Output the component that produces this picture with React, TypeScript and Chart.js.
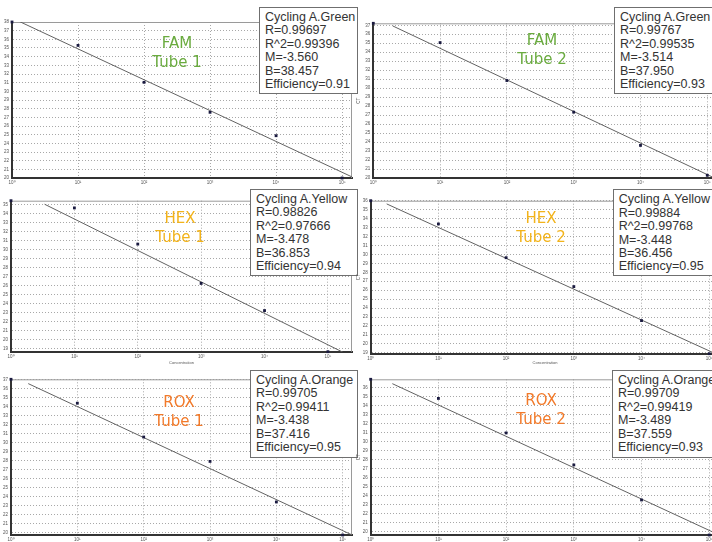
import React, { useEffect, useRef } from "react";
import { Chart, registerables } from "chart.js";

Chart.register(...registerables);

// ---------- data ----------
const logConcentration = [0, 1, 2, 3, 4, 5];
const exponentLabels = ["10\u2070", "10\u00b9", "10\u00b2", "10\u00b3", "10\u2074", "10\u2075"];

const famTube1 = [38.0, 35.3, 31.04, 27.58, 24.88, 20.0];
const famTube2 = [37.22, 35.07, 30.85, 27.33, 23.63, 20.3];
const hexTube1 = [35.4, 34.6, 30.6, 26.25, 23.25, 18.7];
const hexTube2 = [36.0, 33.4, 29.63, 26.4, 22.6, 18.9];
const roxTube1 = [37.0, 34.35, 30.6, 27.9, 23.4, 19.74];
const roxTube2 = [36.93, 34.8, 30.96, 27.4, 23.5, 19.6];

const dyeNames = ["FAM", "FAM", "HEX", "HEX", "ROX", "ROX"];
const tubeNames = ["Tube 1", "Tube 2", "Tube 1", "Tube 2", "Tube 1", "Tube 2"];
const channelNames = [
  "Cycling A.Green",
  "Cycling A.Green",
  "Cycling A.Yellow",
  "Cycling A.Yellow",
  "Cycling A.Orange",
  "Cycling A.Orange",
];
const rValues = ["0.99697", "0.99767", "0.98826", "0.99884", "0.99705", "0.99709"];
const r2Values = ["0.99396", "0.99535", "0.97666", "0.99768", "0.99411", "0.99419"];
const slopes = [-3.56, -3.514, -3.478, -3.448, -3.438, -3.489];
const intercepts = [38.457, 37.95, 36.853, 36.456, 37.416, 37.559];
const efficiencies = [0.91, 0.93, 0.94, 0.95, 0.95, 0.93];

// axis ranges
const yMins = [20.0, 20.0, 18.7, 18.9, 19.74, 19.6];
const yMaxs = [38.0, 37.22, 35.4, 36.0, 37.0, 36.93];
const xMaxs = [5.15, 5.15, 5.38, 5.15, 5.14, 5.15];
const fitStarts = [0, 0.29, 0.53, 0.236, 0.26, 0.32];

const seriesList = [famTube1, famTube2, hexTube1, hexTube2, roxTube1, roxTube2];

// ---------- layout / style ----------
const layouts = [
  { canvas: { l: 0, t: 0, w: 358, h: 190 }, area: { l: 12, t: 22, r: 352, b: 178 }, title: { x: 177, y: 33.5 }, box: { l: 259, t: 7, w: 99, h: 87 }, yTitle: false, xTitle: false },
  { canvas: { l: 356, t: 0, w: 370, h: 190 }, area: { l: 373.3, t: 23.3, r: 717.3, b: 178 }, title: { x: 542, y: 30.5 }, box: { l: 614, t: 7, w: 110, h: 87 }, yTitle: true, xTitle: false },
  { canvas: { l: 0, t: 190, w: 358, h: 175 }, area: { l: 11, t: 200.7, r: 352, b: 351.7 }, title: { x: 180, y: 208.5 }, box: { l: 250, t: 189, w: 108, h: 87 }, yTitle: false, xTitle: true },
  { canvas: { l: 356, t: 190, w: 370, h: 175 }, area: { l: 370.7, t: 200.7, r: 719.4, b: 353.7 }, title: { x: 541, y: 208.5 }, box: { l: 612.7, t: 189.3, w: 110, h: 87 }, yTitle: true, xTitle: true },
  { canvas: { l: 0, t: 365, w: 358, h: 177 }, area: { l: 11, t: 379.3, r: 352, b: 535 }, title: { x: 179, y: 392.5 }, box: { l: 250, t: 370, w: 108, h: 88 }, yTitle: false, xTitle: false },
  { canvas: { l: 356, t: 365, w: 370, h: 177 }, area: { l: 370.7, t: 379.3, r: 719.4, b: 535 }, title: { x: 541, y: 390.5 }, box: { l: 612, t: 370, w: 110, h: 88 }, yTitle: true, xTitle: false },
];
const dyeColors = ["#6aab3f", "#6aab3f", "#f2b31b", "#f2b31b", "#f27a2a", "#f27a2a"];

const framePlugin = {
  id: "frameTopRight",
  beforeDatasetsDraw(chart: any) {
    const { ctx, chartArea } = chart;
    ctx.save();
    ctx.strokeStyle = "#9a9a9a";
    ctx.lineWidth = 1;
    ctx.beginPath();
    ctx.moveTo(chartArea.left, chartArea.top + 0.5);
    ctx.lineTo(chartArea.right, chartArea.top + 0.5);
    ctx.moveTo(chartArea.right - 0.5, chartArea.top);
    ctx.lineTo(chartArea.right - 0.5, chartArea.bottom);
    ctx.stroke();
    ctx.restore();
  },
};

function Panel({ i }: { i: number }) {
  const ref = useRef<HTMLCanvasElement | null>(null);
  const L = layouts[i];
  useEffect(() => {
    const c = L.canvas;
    const a = L.area;
    const yW = a.l - c.l;
    const xH = c.t + c.h - a.b;
    const x0 = fitStarts[i];
    const x1 = xMaxs[i];
    const chart = new Chart(ref.current as HTMLCanvasElement, {
      type: "scatter",
      data: {
        datasets: [
          {
            type: "line",
            data: [
              { x: x0, y: slopes[i] * x0 + intercepts[i] },
              { x: x1, y: slopes[i] * x1 + intercepts[i] },
            ],
            borderColor: "#626262",
            borderWidth: 1,
            pointRadius: 0,
            order: 2,
          } as any,
          {
            data: logConcentration.map((x, k) => ({ x, y: seriesList[i][k] })),
            pointStyle: "rect",
            pointRadius: 2,
            backgroundColor: "#1a1a40",
            borderColor: "#1a1a40",
            borderWidth: 0,
            clip: false,
            order: 1,
          } as any,
        ],
      },
      options: {
        animation: false,
        responsive: false,
        maintainAspectRatio: false,
        events: [],
        layout: { padding: { left: 0, top: a.t - c.t, right: c.l + c.w - a.r, bottom: 0 } },
        plugins: { legend: { display: false }, tooltip: { enabled: false } },
        scales: {
          x: {
            type: "linear",
            min: 0,
            max: x1,
            afterFit: (s: any) => {
              s.height = xH;
            },
            afterBuildTicks: (s: any) => {
              s.ticks = logConcentration.filter((v) => v <= s.max).map((v) => ({ value: v }));
            },
            ticks: {
              callback: (v: any) => exponentLabels[Math.round(Number(v))] ?? "",
              font: { size: 4.5, family: "Liberation Sans, Arial, sans-serif" },
              color: "#555",
              padding: 2,
              maxRotation: 0,
              autoSkip: false,
            },
            grid: { color: "#a8a8a8", lineWidth: 1, drawTicks: false },
            border: { display: true, color: "#333", width: 2, dash: [1, 2] },
            title: {
              display: L.xTitle,
              text: "Concentration",
              font: { size: 4, family: "Liberation Sans, Arial, sans-serif" },
              color: "#555",
              padding: 0,
            },
          },
          y: {
            type: "linear",
            min: yMins[i],
            max: yMaxs[i],
            afterFit: (s: any) => {
              s.width = yW;
            },
            afterBuildTicks: (s: any) => {
              const t: any[] = [];
              for (let v = Math.ceil(s.min - 1e-6); v <= Math.floor(s.max + 1e-6); v++) t.push({ value: v });
              s.ticks = t;
            },
            ticks: {
              callback: (v: any) => String(v),
              font: { size: 4.5, family: "Liberation Sans, Arial, sans-serif" },
              color: "#555",
              padding: 3,
              autoSkip: false,
            },
            grid: { color: "#a8a8a8", lineWidth: 1, drawTicks: false },
            border: { display: true, color: "#333", width: 2, dash: [1, 2] },
            title: {
              display: L.yTitle,
              text: "CT",
              font: { size: 4.5, family: "Liberation Sans, Arial, sans-serif" },
              color: "#555",
              padding: 0,
            },
          },
        },
      },
      plugins: [framePlugin],
    });
    return () => chart.destroy();
  }, [i]);

  const c = L.canvas;
  const b = L.box;
  return (
    <>
      <canvas
        ref={ref}
        width={c.w}
        height={c.h}
        style={{ position: "absolute", left: c.l, top: c.t, width: c.w, height: c.h }}
      />
      <div
        style={{
          position: "absolute",
          left: L.title.x - 60,
          top: L.title.y,
          width: 120,
          textAlign: "center",
          color: dyeColors[i],
          fontFamily: "'DejaVu Sans', Verdana, sans-serif",
          fontSize: 15,
          lineHeight: "19px",
        }}
      >
        <div>{dyeNames[i]}</div>
        <div>{tubeNames[i]}</div>
      </div>
      <div
        style={{
          position: "absolute",
          left: b.l,
          top: b.t,
          width: b.w,
          height: b.h,
          boxSizing: "border-box",
          border: "1px solid #6f6f6f",
          background: "#fff",
          color: "#333",
          fontFamily: "'Liberation Sans', Arial, sans-serif",
          fontSize: 12.5,
          lineHeight: "13.4px",
          padding: "3px 0 0 5px",
          whiteSpace: "nowrap",
        }}
      >
        <div>{channelNames[i]}</div>
        <div>R={rValues[i]}</div>
        <div>R^2={r2Values[i]}</div>
        <div>M={slopes[i].toFixed(3)}</div>
        <div>B={intercepts[i].toFixed(3)}</div>
        <div>Efficiency={efficiencies[i].toFixed(2)}</div>
      </div>
    </>
  );
}

export default function App() {
  return (
    <div
      style={{
        position: "fixed",
        left: 0,
        top: 0,
        width: 712,
        height: 542,
        overflow: "hidden",
        background: "#fff",
      }}
    >
      {layouts.map((_, i) => (
        <Panel key={i} i={i} />
      ))}
    </div>
  );
}
